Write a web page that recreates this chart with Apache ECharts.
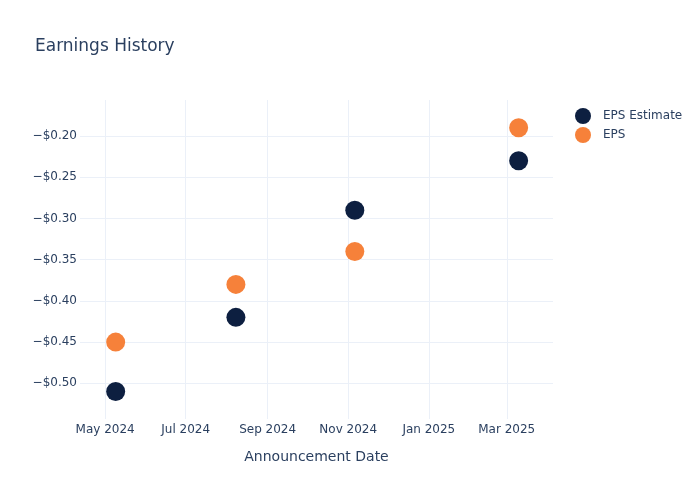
<!DOCTYPE html>
<html>
<head>
    <meta charset="utf-8" />
    <title>Earnings History</title>
    <script src="https://cdn.jsdelivr.net/npm/echarts@6/dist/echarts.min.js"></script>
    <style>
        html, body { margin: 0; padding: 0; background: #fff; }
    </style>
</head>
<body>
    <div id="main" style="width:700px;height:500px"></div>
    <script type="text/javascript">

        var dates = ['2024-05-09', '2024-08-08', '2024-11-06', '2025-03-10'];
        var epsEstimate = [-0.51, -0.42, -0.29, -0.23];
        var eps = [-0.45, -0.38, -0.34, -0.19];

        var xTicks = ['2024-05-01', '2024-07-01', '2024-09-01', '2024-11-01', '2025-01-01', '2025-03-01'];
        var yTicks = [-0.50, -0.45, -0.40, -0.35, -0.30, -0.25, -0.20];
        var monthNames = ['Jan', 'Feb', 'Mar', 'Apr', 'May', 'Jun', 'Jul', 'Aug', 'Sep', 'Oct', 'Nov', 'Dec'];

        function toTime(s) {
            var p = s.split('-');
            return Date.UTC(+p[0], +p[1] - 1, +p[2]);
        }

        function pairs(values) {
            return dates.map(function (d, i) {
                return [toTime(d), values[i]];
            });
        }

        var textColor = '#2a3f5f';
        var gridColor = '#ebf0f8';
        var font = 'DejaVu Sans, sans-serif';

        var chartDom = document.getElementById('main');
        var myChart = echarts.init(chartDom);
        var option;

        option = {
            animation: false,
            textStyle: { fontFamily: font },
            title: {
                text: 'Earnings History',
                left: 30,
                top: 33,
                textStyle: {
                    color: textColor,
                    fontSize: 17,
                    fontWeight: 'normal',
                    fontFamily: font
                }
            },
            legend: {
                orient: 'vertical',
                left: 570,
                top: 103,
                icon: 'circle',
                itemWidth: 16,
                itemHeight: 16,
                itemGap: 3,
                textStyle: {
                    color: textColor,
                    fontSize: 12,
                    fontFamily: font,
                    padding: [0, 0, 0, 7]
                },
                data: ['EPS Estimate', 'EPS']
            },
            grid: {
                left: 80,
                right: 147,
                top: 100,
                bottom: 81
            },
            xAxis: {
                type: 'value',
                min: toTime('2024-04-12'),
                max: toTime('2025-04-05'),
                name: 'Announcement Date',
                nameLocation: 'middle',
                nameGap: 31,
                nameTextStyle: { color: textColor, fontSize: 14, fontFamily: font },
                axisLine: { show: false },
                axisTick: { show: false, customValues: xTicks.map(toTime) },
                splitLine: { show: true, lineStyle: { color: gridColor, width: 1 } },
                axisLabel: {
                    customValues: xTicks.map(toTime),
                    color: textColor,
                    fontSize: 12,
                    fontFamily: font,
                    margin: 5,
                    formatter: function (v) {
                        var d = new Date(v);
                        return monthNames[d.getUTCMonth()] + ' ' + d.getUTCFullYear();
                    }
                }
            },
            yAxis: {
                type: 'value',
                min: -0.5433,
                max: -0.1563,
                axisLine: { show: false },
                axisTick: { show: false, customValues: yTicks },
                splitLine: { show: true, lineStyle: { color: gridColor, width: 1 } },
                axisLabel: {
                    customValues: yTicks,
                    color: textColor,
                    fontSize: 12,
                    fontFamily: font,
                    margin: 3,
                    formatter: function (v) {
                        return '\u2212$' + Math.abs(v).toFixed(2);
                    }
                }
            },
            series: [{
                name: 'EPS Estimate',
                type: 'scatter',
                symbol: 'circle',
                symbolSize: 19,
                itemStyle: { color: '#0d1f40', opacity: 1 },
                data: pairs(epsEstimate)
            }, {
                name: 'EPS',
                type: 'scatter',
                symbol: 'circle',
                symbolSize: 19,
                itemStyle: { color: '#f6813a', opacity: 1 },
                data: pairs(eps)
            }]
        };

        option && myChart.setOption(option);

    </script>
</body>
</html>
